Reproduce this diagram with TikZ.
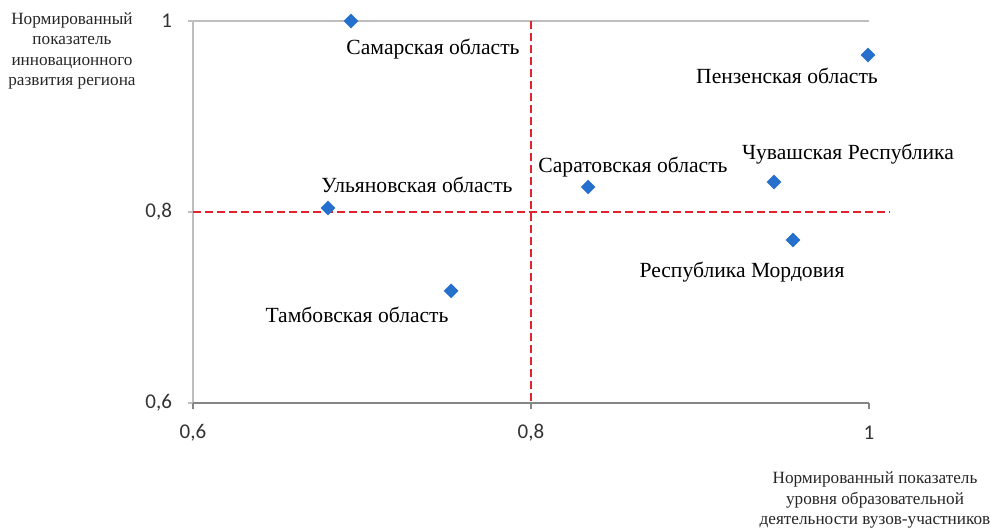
\documentclass[tikz,border=0pt]{standalone}
\usepackage{fontspec}
\setmainfont{Liberation Serif}
\newfontfamily\tickfont{Carlito}
\usetikzlibrary{shapes.geometric,positioning}
\definecolor{ptblue}{RGB}{38,112,205}
\definecolor{axgray}{RGB}{134,134,134}
\definecolor{gridgray}{RGB}{190,190,190}
\definecolor{refred}{RGB}{225,35,50}
\tikzset{
  pt/.style={diamond,fill=ptblue,inner sep=0pt,minimum size=7.5pt},
  lbl/.style={anchor=base,font=\fontsize{10.8}{13}\selectfont},
  tick/.style={font=\tickfont\fontsize{10.5}{12}\selectfont,text=black!80},
  ttl/.style={align=center,font=\fontsize{8.6}{10.3}\selectfont,text=black!85},
  refline/.style={refred,dash pattern=on 4pt off 2pt,line width=0.6pt},
}
\begin{document}
\begin{tikzpicture}[x=0.5pt,y=-0.5pt]
\useasboundingbox (0,0) rectangle (991,529);
% data area
\begin{scope}[shift={(-821,976)},x=845pt,y=477.5pt]
  \coordinate (o) at (0.6,0.6);
  \coordinate (xe) at (1,0.6);
  \coordinate (ye) at (0.6,1);
  \coordinate (ne) at (1,1);
  \coordinate (vt) at (0.8,1);
  \coordinate (vb) at (0.8,0.6);
  \coordinate (hl) at (0.6,0.8);
  \coordinate (hr) at (1.0124,0.8);
  \draw[gridgray,line width=0.8pt] (ye) -- (ne);
  \draw[gridgray,line width=0.8pt] (o) -- (ye);
  \draw[axgray,line width=0.8pt] (o) -- (xe);
  \foreach \y/\t [count=\i] in {0.6/{0,6},0.8/{0,8},1/1}{
    \draw[gridgray,line width=0.8pt] (0.6,\y) -- ++(-2.5pt,0pt);
    \node[tick,anchor=east] (yl\i) at ([xshift=-7pt]0.6,\y) {\t};
  }
  \foreach \x/\t [count=\i] in {0.6/{0,6},0.8/{0,8},1/1}{
    \draw[axgray,line width=0.8pt] (\x,0.6) -- ++(0pt,-3pt);
    \node[tick] (xl\i) at ([yshift=-15pt]\x,0.6) {\t};
  }
  \draw[refline] (vt) -- (vb);
  \draw[refline] (hl) -- (hr);
  % regions
  \node[pt] (sam) at (0.6935,1) {};
  \node[pt] (pen) at (0.9994,0.9644) {};
  \node[pt] (sar) at (0.8338,0.8262) {};
  \node[pt] (chu) at (0.9438,0.8314) {};
  \node[pt] (uly) at (0.6799,0.8042) {};
  \node[pt] (mor) at (0.9550,0.7707) {};
  \node[pt] (tam) at (0.7527,0.7174) {};
\end{scope}
\node[lbl] (samL) at (433,55) {Самарская область};
\node[lbl] (penL) at (787,84) {Пензенская область};
\node[lbl] (sarL) at (633,173) {Саратовская область};
\node[lbl] (chuL) at (848,160) {Чувашская Республика};
\node[lbl] (ulyL) at (417,193) {Ульяновская область};
\node[lbl] (morL) at (742,278) {Республика Мордовия};
\node[lbl] (tamL) at (357,322) {Тамбовская область};
\node[ttl] (ytitle) at (72,51) {Нормированный\\показатель\\инновационного\\развития региона};
\node[ttl] (xtitle) at (875,500) {Нормированный показатель\\уровня образовательной\\деятельности вузов-участников};
\end{tikzpicture}
\end{document}
